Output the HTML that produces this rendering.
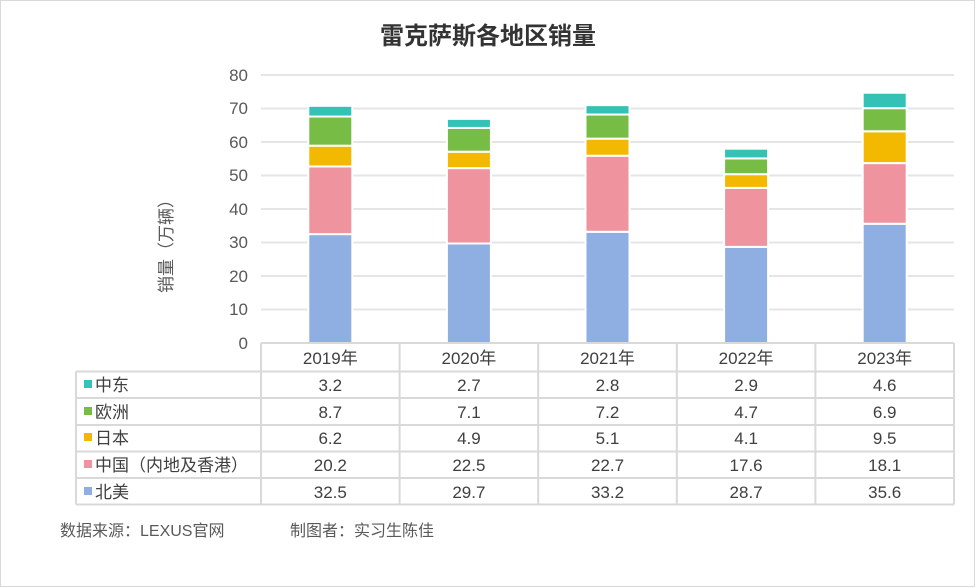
<!DOCTYPE html>
<html><head><meta charset="utf-8"><style>
body{margin:0;background:#fff}
svg{display:block;font-family:"Liberation Sans","Noto Sans CJK SC",sans-serif}
</style></head><body>
<svg width="976" height="588" viewBox="0 0 976 588">
<rect x="0.5" y="0.5" width="974" height="586" fill="#fff" stroke="#d9d9d9" stroke-width="1"/>
<text x="488" y="44" text-anchor="middle" font-size="24" font-weight="bold" fill="#333">雷克萨斯各地区销量</text>
<g stroke="#e5e5e5" stroke-width="2">
<line x1="261" x2="954" y1="75" y2="75"/><line x1="261" x2="954" y1="108.5" y2="108.5"/>
<line x1="261" x2="954" y1="142" y2="142"/><line x1="261" x2="954" y1="175.5" y2="175.5"/>
<line x1="261" x2="954" y1="209" y2="209"/><line x1="261" x2="954" y1="242.5" y2="242.5"/>
<line x1="261" x2="954" y1="276" y2="276"/><line x1="261" x2="954" y1="309.5" y2="309.5"/>
</g>
<g font-size="17" fill="#595959" text-anchor="end">
<text x="248" y="81">80</text><text x="248" y="114">70</text><text x="248" y="148">60</text>
<text x="248" y="181">50</text><text x="248" y="215">40</text><text x="248" y="248">30</text>
<text x="248" y="282">20</text><text x="248" y="315">10</text><text x="248" y="349">0</text>
</g>
<text transform="translate(172,242) rotate(-90)" text-anchor="middle" font-size="17" fill="#595959">销量（万辆）</text>
<g stroke="#fff" stroke-width="2">
<rect x="308.3" y="234.125" width="44" height="108.875" fill="#8faee2"/>
<rect x="308.3" y="166.455" width="44" height="67.67" fill="#ef939e"/>
<rect x="308.3" y="145.685" width="44" height="20.77" fill="#f2b900"/>
<rect x="308.3" y="116.54" width="44" height="29.145" fill="#77bc45"/>
<rect x="308.3" y="105.82" width="44" height="10.72" fill="#33c2b5"/>

<rect x="446.9" y="243.505" width="44" height="99.495" fill="#8faee2"/>
<rect x="446.9" y="168.13" width="44" height="75.375" fill="#ef939e"/>
<rect x="446.9" y="151.715" width="44" height="16.415" fill="#f2b900"/>
<rect x="446.9" y="127.93" width="44" height="23.785" fill="#77bc45"/>
<rect x="446.9" y="118.885" width="44" height="9.045" fill="#33c2b5"/>

<rect x="585.5" y="231.78" width="44" height="111.22" fill="#8faee2"/>
<rect x="585.5" y="155.735" width="44" height="76.045" fill="#ef939e"/>
<rect x="585.5" y="138.65" width="44" height="17.085" fill="#f2b900"/>
<rect x="585.5" y="114.53" width="44" height="24.12" fill="#77bc45"/>
<rect x="585.5" y="105.15" width="44" height="9.38" fill="#33c2b5"/>

<rect x="724.1" y="246.855" width="44" height="96.145" fill="#8faee2"/>
<rect x="724.1" y="187.895" width="44" height="58.96" fill="#ef939e"/>
<rect x="724.1" y="174.16" width="44" height="13.735" fill="#f2b900"/>
<rect x="724.1" y="158.415" width="44" height="15.745" fill="#77bc45"/>
<rect x="724.1" y="148.7" width="44" height="9.715" fill="#33c2b5"/>

<rect x="862.7" y="223.74" width="44" height="119.26" fill="#8faee2"/>
<rect x="862.7" y="163.105" width="44" height="60.635" fill="#ef939e"/>
<rect x="862.7" y="131.28" width="44" height="31.825" fill="#f2b900"/>
<rect x="862.7" y="108.165" width="44" height="23.115" fill="#77bc45"/>
<rect x="862.7" y="92.755" width="44" height="15.41" fill="#33c2b5"/>
</g>
<g stroke="#d9d9d9" stroke-width="2" fill="none">
<line x1="261" y1="343" x2="954" y2="343"/>
<line x1="76" y1="371.5" x2="954" y2="371.5"/>
<line x1="76" y1="398" x2="954" y2="398"/>
<line x1="76" y1="425" x2="954" y2="425"/>
<line x1="76" y1="451.5" x2="954" y2="451.5"/>
<line x1="76" y1="478" x2="954" y2="478"/>
<line x1="76" y1="504.5" x2="954" y2="504.5"/>
<line x1="76" y1="371.5" x2="76" y2="504.5"/>
<line x1="261" y1="343" x2="261" y2="504.5"/>
<line x1="399.6" y1="343" x2="399.6" y2="504.5"/>
<line x1="538.2" y1="343" x2="538.2" y2="504.5"/>
<line x1="676.8" y1="343" x2="676.8" y2="504.5"/>
<line x1="815.4" y1="343" x2="815.4" y2="504.5"/>
<line x1="954" y1="343" x2="954" y2="504.5"/>
</g>
<g font-size="17" fill="#404040">
<rect x="84" y="380" width="8" height="8" fill="#33c2b5"/><text x="95" y="391">中东</text>
<rect x="84" y="407" width="8" height="8" fill="#77bc45"/><text x="95" y="418">欧洲</text>
<rect x="84" y="433" width="8" height="8" fill="#f2b900"/><text x="95" y="444">日本</text>
<rect x="84" y="460" width="8" height="8" fill="#ef939e"/><text x="95" y="471">中国（内地及香港）</text>
<rect x="84" y="487" width="8" height="8" fill="#8faee2"/><text x="95" y="498">北美</text>
</g>
<g font-size="17" fill="#404040" text-anchor="middle">
<text x="330.3" y="364">2019年</text><text x="468.9" y="364">2020年</text><text x="607.5" y="364">2021年</text><text x="746.1" y="364">2022年</text><text x="884.7" y="364">2023年</text>
<text x="330.3" y="391">3.2</text><text x="468.9" y="391">2.7</text><text x="607.5" y="391">2.8</text><text x="746.1" y="391">2.9</text><text x="884.7" y="391">4.6</text>
<text x="330.3" y="418">8.7</text><text x="468.9" y="418">7.1</text><text x="607.5" y="418">7.2</text><text x="746.1" y="418">4.7</text><text x="884.7" y="418">6.9</text>
<text x="330.3" y="444">6.2</text><text x="468.9" y="444">4.9</text><text x="607.5" y="444">5.1</text><text x="746.1" y="444">4.1</text><text x="884.7" y="444">9.5</text>
<text x="330.3" y="471">20.2</text><text x="468.9" y="471">22.5</text><text x="607.5" y="471">22.7</text><text x="746.1" y="471">17.6</text><text x="884.7" y="471">18.1</text>
<text x="330.3" y="498">32.5</text><text x="468.9" y="498">29.7</text><text x="607.5" y="498">33.2</text><text x="746.1" y="498">28.7</text><text x="884.7" y="498">35.6</text>
</g>
<text x="60" y="536" font-size="16" fill="#595959">数据来源：LEXUS官网</text>
<text x="290" y="536" font-size="16" fill="#595959">制图者：实习生陈佳</text>
</svg>
</body></html>
